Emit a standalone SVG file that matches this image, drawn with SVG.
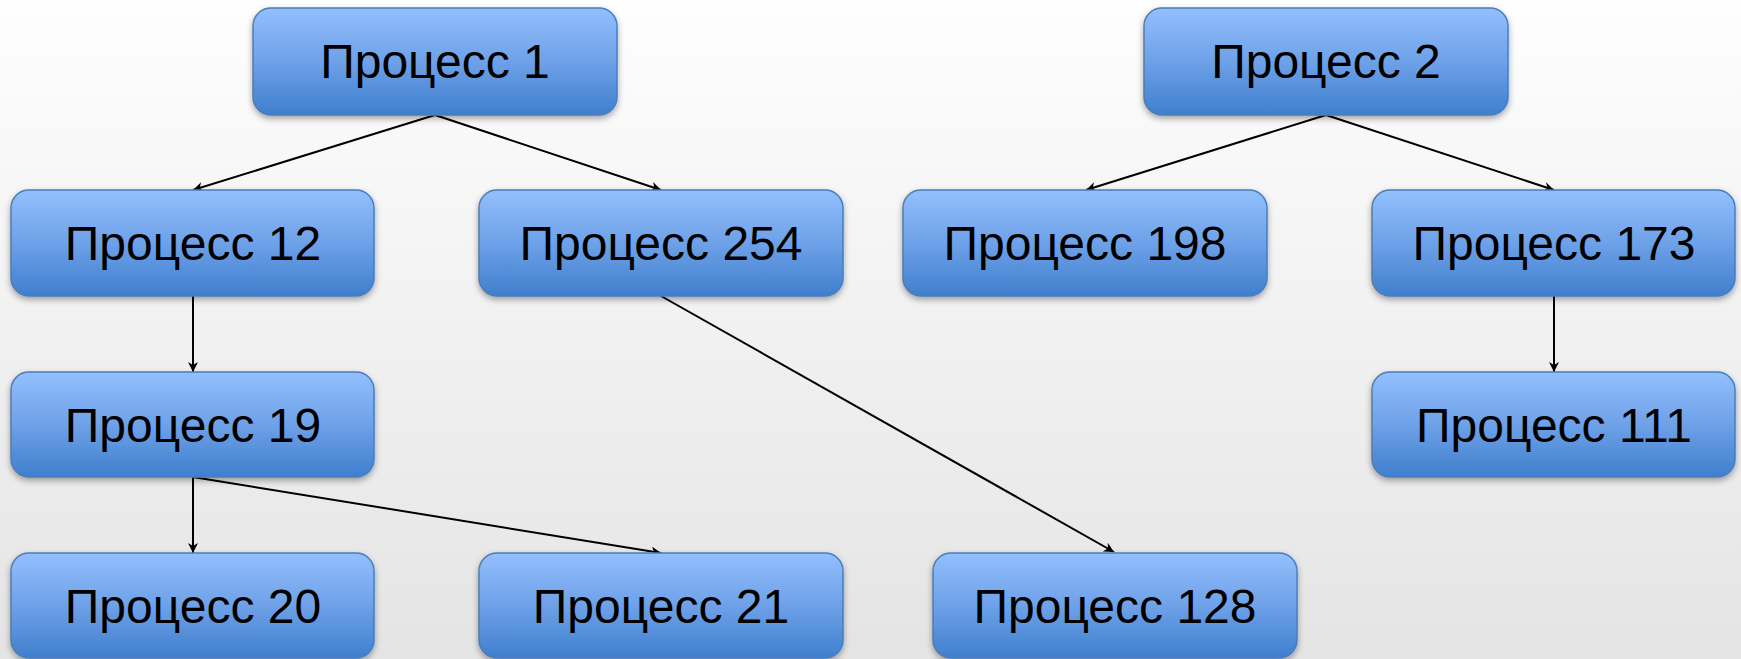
<svg xmlns="http://www.w3.org/2000/svg" width="1741" height="659" viewBox="0 0 1741 659">
  <defs>
    <linearGradient id="bg" x1="0" y1="0" x2="0" y2="1">
      <stop offset="0" stop-color="#fefefe"/>
      <stop offset="1" stop-color="#e4e4e4"/>
    </linearGradient>
    <linearGradient id="boxfill" x1="0" y1="0" x2="0" y2="1">
      <stop offset="0" stop-color="#93bffd"/>
      <stop offset="0.5" stop-color="#6ea1e8"/>
      <stop offset="1" stop-color="#3f7fcd"/>
    </linearGradient>
    <filter id="shadow" x="-10%" y="-20%" width="120%" height="150%">
      <feDropShadow dx="0" dy="3" stdDeviation="3" flood-color="#000" flood-opacity="0.35"/>
    </filter>
    <marker id="arrow" viewBox="0 0 10 10" refX="10" refY="5" markerWidth="10" markerHeight="10" markerUnits="userSpaceOnUse" orient="auto">
      <path d="M0,0 L10,5 L0,10 L3,5 Z" fill="#000"/>
    </marker>
  </defs>
  <style>
    .box { fill: url(#boxfill); stroke: #4a7ebb; stroke-width: 1.5; filter: url(#shadow); }
    .label { font-family: "Liberation Sans", Arial, sans-serif; font-size: 48px; fill: #000; text-anchor: middle; }
    .edge { stroke: #000; stroke-width: 2; fill: none; marker-end: url(#arrow); }
  </style>
  <rect x="0" y="0" width="1741" height="659" fill="url(#bg)"/>

  <g id="connectors">
    <line class="edge" x1="435" y1="115" x2="193" y2="190"/>
    <line class="edge" x1="435" y1="115" x2="661" y2="190"/>
    <line class="edge" x1="193" y1="296" x2="193" y2="372"/>
    <line class="edge" x1="661" y1="296" x2="1114" y2="552"/>
    <line class="edge" x1="193" y1="477" x2="193" y2="553"/>
    <line class="edge" x1="193" y1="477" x2="661" y2="553"/>
    <line class="edge" x1="1326" y1="115" x2="1086" y2="190"/>
    <line class="edge" x1="1326" y1="115" x2="1554" y2="190"/>
    <line class="edge" x1="1554" y1="296" x2="1554" y2="372"/>
  </g>

  <g id="n1"><rect class="box" x="253" y="8" width="364" height="107" rx="18"/><text class="label" x="435" y="78">Процесс 1</text></g>
  <g id="n2"><rect class="box" x="1144" y="8" width="364" height="107" rx="18"/><text class="label" x="1326" y="78">Процесс 2</text></g>
  <g id="n12"><rect class="box" x="11" y="190" width="363" height="106" rx="18"/><text class="label" x="193" y="260">Процесс 12</text></g>
  <g id="n254"><rect class="box" x="479" y="190" width="364" height="106" rx="18"/><text class="label" x="661" y="260">Процесс 254</text></g>
  <g id="n198"><rect class="box" x="903" y="190" width="364" height="106" rx="18"/><text class="label" x="1085" y="260">Процесс 198</text></g>
  <g id="n173"><rect class="box" x="1372" y="190" width="363" height="106" rx="18"/><text class="label" x="1554" y="260">Процесс 173</text></g>
  <g id="n19"><rect class="box" x="11" y="372" width="363" height="105" rx="18"/><text class="label" x="193" y="442">Процесс 19</text></g>
  <g id="n111"><rect class="box" x="1372" y="372" width="363" height="105" rx="18"/><text class="label" x="1554" y="442">Процесс 111</text></g>
  <g id="n20"><rect class="box" x="11" y="553" width="363" height="105" rx="18"/><text class="label" x="193" y="623">Процесс 20</text></g>
  <g id="n21"><rect class="box" x="479" y="553" width="364" height="105" rx="18"/><text class="label" x="661" y="623">Процесс 21</text></g>
  <g id="n128"><rect class="box" x="933" y="553" width="364" height="105" rx="18"/><text class="label" x="1115" y="623">Процесс 128</text></g>
</svg>
